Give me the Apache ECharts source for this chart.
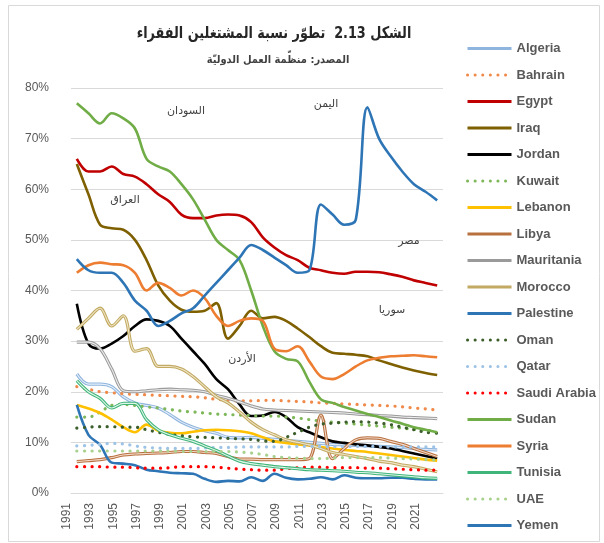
<!DOCTYPE html>
<html>
<head>
<meta charset="utf-8">
<script src="https://cdn.jsdelivr.net/npm/echarts@6/dist/echarts.min.js"></script>
<style>
  html, body { margin: 0; padding: 0; background: #fff; }
  #main { width: 604px; height: 543px; }
</style>
</head>
<body>
<div id="main"></div>
<script>
// years on the category axis
const years = ['1991','1992','1993','1994','1995','1996','1997','1998','1999','2000',
  '2001','2002','2003','2004','2005','2006','2007','2008','2009','2010',
  '2011','2012','2013','2014','2015','2016','2017','2018','2019','2020','2021','2022'];

// share of working poor (%)
const algeria    = [23.5,21.5,21.5,21,19,17.8,17.3,16.8,15.5,14,13,12.3,11.8,11,10.9,11,10.8,10.6,10.4,10.2,10,9.8,9.6,9.5,9.4,9.3,9.2,9.1,9,8.8,8.6,8.5];
const bahrain    = [21,20.5,20,19.8,19.6,19.5,19.4,19.3,19.2,19.1,19,18.8,18.5,18.3,18.2,18.2,18.3,18.3,18.2,18.1,18,17.8,17.7,17.6,17.5,17.4,17.3,17.2,17,16.8,16.6,16.4];
const egypt      = [66,63.5,63.5,64.5,63,62.5,61,59,57.5,55,54.3,54.3,54.8,55,54.8,53.5,50.5,48.5,47,46,44.5,44,43.5,43.3,43.7,43.7,43.6,43.2,42.7,42,41.5,41];
const iraq       = [65,59,53,52.3,52,50,46,41,38,36.2,35.8,36,37.5,30.5,33,36,34.5,34.8,34,32.5,30.8,29,27.7,27.5,27.3,27,26.2,25.5,24.8,24.2,23.7,23.3];
const jordan     = [37.4,29.5,28.5,29.5,31,33,34.3,34,33,30.5,28,25.5,22.5,20.5,17.5,15.2,15.3,16,15,13,12,11,10.2,9.9,9.6,9.4,9.1,8.8,8.3,7.8,7.3,6.8];
const kuwait     = [15,15,16,17.3,17.5,17.3,17,16.8,16.5,16.2,16,15.8,15.6,15.5,15.4,15.3,15.2,15.2,15,14.8,14.5,14.2,14,13.8,13.6,13.4,13.2,13,12.8,12.6,12.4,12.2];
const lebanon    = [17.4,16.7,15.8,14.5,13,12,13.5,12.3,11.9,11.8,12.1,12.4,12.5,12.4,12.2,11.8,11,10.2,9.9,9.6,9.4,9.1,8.8,8.5,8.3,8.1,7.8,7.5,7.2,6.9,6.6,6.4];
const libya      = [6.2,6.4,6.6,7,7.5,7.7,7.8,7.9,8,8.2,8.2,8,7.8,7.2,6.7,6.7,6.6,6.6,6.6,6.6,6.8,15.4,6.8,8.8,10.5,10.9,10.8,10.2,9.6,8.8,8,7.2];
const mauritania = [29.8,29.8,28.5,24.5,20.2,20,20.2,20.4,20.5,20.4,20.3,20,19.3,18.7,18,17.2,16.6,16.4,16.3,16.2,16.1,16,15.9,15.8,15.6,15.5,15.3,15.2,15,14.9,14.8,14.7];
const morocco    = [32.3,34.5,36.5,33,35,28,28.5,25,25,24.5,23,21,19,17.8,16,14,12.5,11.5,10.5,10,9.5,8.8,8,7.6,7.2,6.8,6.3,6,5.5,5.2,4.7,4.2];
const palestine  = [17.4,11.5,9.5,6,5.8,5.5,4.6,4.3,4,3.9,3.8,2.8,2.2,2.4,2.3,3.1,2.4,3.8,3,2.7,2.8,3.1,2.7,3.5,3,2.9,2.9,3,3,2.8,2.7,2.7];
const oman       = [12.8,13,13.1,13.1,13,13,12.5,12,11.6,11.3,11.1,11,10.9,10.8,10.7,10.6,10.3,10.2,11,12,13,13.6,13.8,14,14.1,14,13.8,13.5,13,12.5,12,11.8];
const qatar      = [9.3,9.4,9.6,9.8,9.7,9.3,9,8.9,8.8,8.8,8.8,8.9,9,9,9.1,9.1,9.1,9.1,9.1,9.2,9.2,9.2,9.2,9.2,9.2,9.2,9.2,9.1,9.1,9.1,9.1,9.1];
const saudi      = [5.2,5.2,5.2,5.1,5.1,5,4.9,4.9,5,5.2,5.2,5.2,5.1,4.9,4.7,4.6,4.5,4.5,4.8,5,5.1,5.1,5,5,5,4.9,4.9,4.8,4.7,4.6,4.5,4.5];
const sudan      = [77,75,73,75,74,72,66,64.5,63.5,61,58,54,50,48,46,40,33,28,26.5,26,22,18.5,17.8,17,16.3,15.6,15,14.3,13.7,13,12.5,12];
const syria      = [43.5,45,45.5,45.2,45,43.5,40,41.5,40.5,39,40,38.5,35,33,34,34.5,34,28.5,28,29,26,23,22.5,23.5,25,26.2,26.7,27,27.1,27.2,27,26.8];
const tunisia    = [22.2,20,18.7,16.8,17.7,17.7,14.5,12.5,11.5,10.8,10.2,9.3,8.4,7.3,6.3,5.8,5.5,5.2,5,4.8,4.6,4.5,4.4,4.3,4.1,4,3.8,3.6,3.4,3.2,3,2.9];
const uae        = [8.3,8.3,8.3,8.3,8.3,8.3,8.3,8.3,8.3,8.2,8.2,8.2,8.2,8.2,8.1,7.9,7.6,7.2,7,6.9,6.8,6.8,6.9,7,7,7,7,6.9,6.8,6.7,6.6,6.5];
const yemen      = [46.2,44,43.5,43.5,41.5,38,36,33,34,35.5,36.5,39,41.5,44,46.5,49,48,46.5,45,43.5,44,57,55,53,54,76.2,70,66.5,63.5,61,59.5,57.8];

// Arabic notes written inside the plot
const notes = [
  { text: 'السودان', x: 186, y: 111 },
  { text: 'العراق', x: 125, y: 200 },
  { text: 'اليمن', x: 326, y: 104 },
  { text: 'مصر', x: 409, y: 241 },
  { text: 'سوريا', x: 392, y: 310 },
  { text: 'الأردن', x: 242, y: 359 }
];

const chartDom = document.getElementById('main');
const myChart = echarts.init(chartDom);

const dots = [0.1, 7.5];
function line(name, data, color, width, dash) {
  return {
    name: name,
    type: 'line',
    data: data,
    smooth: 0.35,
    symbol: 'none',
    lineStyle: dash
      ? { color: color, width: 3.2, type: dash, cap: 'round' }
      : { color: color, width: width },
    itemStyle: { color: color },
    emphasis: { disabled: true }
  };
}
// thin light line laid over a wider one, like the double lines in the figure
function inner(name, data, color) {
  const s = line('_' + name, data, color, 1.1);
  s.silent = true;
  return s;
}

const series = [
  line('Algeria', algeria, '#8fb4dd', 3.2), inner('Algeria', algeria, '#e6f0fa'),
  line('Bahrain', bahrain, '#f08a4b', 0, dots),
  line('Egypt', egypt, '#c00000', 2.6),
  line('Iraq', iraq, '#7f6000', 2.6),
  line('Jordan', jordan, '#000000', 2.6),
  line('Kuwait', kuwait, '#7fb85a', 0, dots),
  line('Lebanon', lebanon, '#ffc000', 2.6),
  line('Libya', libya, '#b8703f', 3.2), inner('Libya', libya, '#f3d9c8'),
  line('Mauritania', mauritania, '#9a9a9a', 3.2), inner('Mauritania', mauritania, '#ececec'),
  line('Morocco', morocco, '#c2aa62', 3.2), inner('Morocco', morocco, '#efe5c6'),
  line('Palestine', palestine, '#2e75b6', 2.6),
  line('Oman', oman, '#3b5e2b', 0, dots),
  line('Qatar', qatar, '#9dc3e6', 0, dots),
  line('Saudi Arabia', saudi, '#ff0000', 0, dots),
  line('Sudan', sudan, '#70ad47', 2.6),
  line('Syria', syria, '#ed7d31', 2.6),
  line('Tunisia', tunisia, '#3fb57a', 3.2), inner('Tunisia', tunisia, '#dff5e8'),
  line('UAE', uae, '#a9d18e', 0, dots),
  line('Yemen', yemen, '#2e75b6', 2.6)
];

const legendNames = ['Algeria','Bahrain','Egypt','Iraq','Jordan','Kuwait','Lebanon','Libya',
  'Mauritania','Morocco','Palestine','Oman','Qatar','Saudi Arabia','Sudan','Syria','Tunisia','UAE','Yemen'];

const graphics = [
  {
    type: 'rect', z: 100,
    shape: { x: 8.5, y: 5.5, width: 591, height: 536 },
    style: { fill: 'none', stroke: '#d9d9d9', lineWidth: 1 },
    silent: true
  },
  {
    type: 'text', x: 274, y: 34, z: 100, scaleX: 0.8,
    style: {
      text: 'الشكل 2.13  تطوّر نسبة المشتغلين الفقراء',
      font: 'bold 16px "DejaVu Sans", sans-serif',
      fill: '#262626', textAlign: 'center', align: 'center',
      textVerticalAlign: 'middle', verticalAlign: 'middle'
    }
  },
  {
    type: 'text', x: 278, y: 60, z: 100, scaleX: 0.9,
    style: {
      text: 'المصدر: منظّمة العمل الدوليّة',
      font: 'bold 11px "DejaVu Sans", sans-serif',
      fill: '#404040', textAlign: 'center', align: 'center',
      textVerticalAlign: 'middle', verticalAlign: 'middle'
    }
  }
];
notes.forEach(function (n) {
  graphics.push({
    type: 'text', x: n.x, y: n.y, z: 100, silent: true,
    style: {
      text: n.text,
      font: '11px "DejaVu Sans", sans-serif',
      fill: '#404040', textAlign: 'center', align: 'center',
      textVerticalAlign: 'middle', verticalAlign: 'middle'
    }
  });
});

let option = {
  backgroundColor: '#ffffff',
  animation: false,
  grid: { left: 71, right: 161, top: 88, bottom: 50 },
  legend: {
    data: legendNames,
    orient: 'vertical',
    left: 461,
    top: 37,
    itemWidth: 44,
    itemHeight: 14,
    itemGap: 13.5,
    itemStyle: { opacity: 0 },
    lineStyle: { width: 3 },
    textStyle: { color: '#595959', fontSize: 13, fontWeight: 'bold', fontFamily: 'Liberation Sans' },
    selectedMode: false
  },
  xAxis: {
    type: 'category',
    data: years,
    boundaryGap: true,
    axisLine: { lineStyle: { color: '#d9d9d9' } },
    axisTick: { show: false },
    axisLabel: {
      interval: 1,
      rotate: 90,
      margin: 10,
      verticalAlign: 'bottom',
      padding: [0, 0, 4, 0],
      color: '#595959',
      fontSize: 12,
      fontFamily: 'Liberation Sans'
    }
  },
  yAxis: {
    type: 'value',
    min: 0,
    max: 80,
    interval: 10,
    axisLine: { show: false },
    axisTick: { show: false },
    splitLine: { lineStyle: { color: '#d9d9d9' } },
    axisLabel: {
      formatter: '{value}%',
      margin: 22,
      color: '#595959',
      fontSize: 12,
      fontFamily: 'Liberation Sans'
    }
  },
  graphic: graphics,
  series: series
};

option && myChart.setOption(option);
</script>
</body>
</html>
